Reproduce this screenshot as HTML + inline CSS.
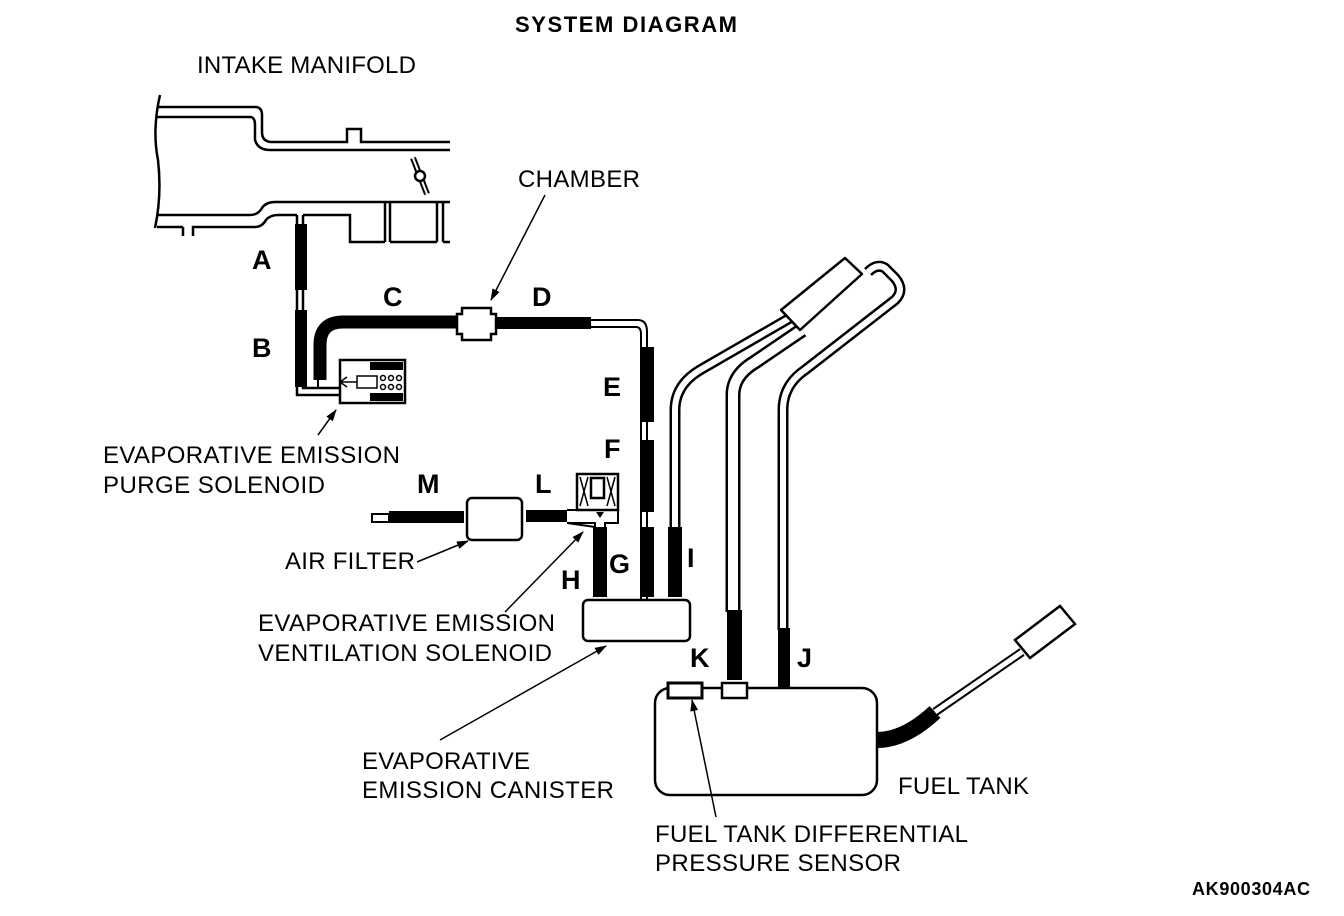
<!DOCTYPE html>
<html><head><meta charset="utf-8"><style>
html,body{margin:0;padding:0;background:#fff;}
svg{display:block;}
text{font-family:"Liberation Sans",sans-serif;fill:#000;}
.l{font-size:24px;}
.b{font-size:27px;font-weight:bold;}
</style></head><body>
<svg width="1344" height="916" viewBox="0 0 1344 916" xmlns="http://www.w3.org/2000/svg">
<defs><marker id="ar" markerWidth="12" markerHeight="8" refX="11" refY="4" orient="auto" markerUnits="userSpaceOnUse"><path d="M0,0 L12,4 L0,8 Z" fill="#000"/></marker></defs>
<text x="515" y="32" style="font-size:22px;font-weight:bold" textLength="222">SYSTEM DIAGRAM</text>
<text class="l" x="197" y="73" textLength="219">INTAKE MANIFOLD</text>
<g fill="none" stroke="#000" stroke-width="2.5">
<path d="M160,95 Q152,130 158,160 Q162,195 155,228"/>
<path d="M157,107 H255 Q262,107 262,115 V132 Q262,142 272,142 H347 V129 H361 V142 H450"/>
<path d="M157,117 H250 Q255,117 255,125 V140 Q258,150 270,150 H450"/>
<path d="M157,227 H183 M183,227 V236 M193,236 V227 H255 Q262,227 266,220 Q270,215 278,215 H297 M303,215 H350 V242 H385 M390,242 H437 M443,242 H450"/>
<path d="M157,215 H250 Q258,215 262,208 Q266,202 275,202 H450"/>
<path d="M385,202 V242 M390,202 V242 M437,202 V242 M443,202 V242"/>
<path d="M297,215 V395 H340 M303,215 V388 H340"/>
</g>
<line x1="413" y1="158" x2="427" y2="194" stroke="#000" stroke-width="6"/>
<line x1="413" y1="158" x2="427" y2="194" stroke="#fff" stroke-width="2"/>
<circle cx="420" cy="176" r="5" fill="#fff" stroke="#000" stroke-width="2.5"/>
<rect x="295" y="224" width="12" height="66" fill="#000"/>
<rect x="295" y="310" width="12" height="77" fill="#000"/>
<rect x="340" y="360" width="65" height="43" fill="#fff" stroke="#000" stroke-width="2.5"/>
<path d="M320,380 V345 Q320,322 343,322 H457" fill="none" stroke="#000" stroke-width="13"/>
<path d="M318,378 V388 H340" fill="none" stroke="#000" stroke-width="2"/>
<rect x="357" y="376" width="20" height="12" fill="none" stroke="#000" stroke-width="1.5"/>
<path d="M340,382 H357 M347,377 L340,382 L347,387" fill="none" stroke="#000" stroke-width="1.5"/>
<rect x="370" y="362" width="33" height="8" fill="#000"/><rect x="370" y="393" width="33" height="8" fill="#000"/>
<g fill="none" stroke="#000" stroke-width="1.5"><circle cx="383" cy="378" r="2.5"/><circle cx="391" cy="378" r="2.5"/><circle cx="399" cy="378" r="2.5"/><circle cx="383" cy="387" r="2.5"/><circle cx="391" cy="387" r="2.5"/><circle cx="399" cy="387" r="2.5"/></g>
<path d="M462,308 H491 V314 H496 V334 H491 V340 H462 V334 H457 V314 H462 Z" fill="#fff" stroke="#000" stroke-width="2.5"/>
<rect x="496" y="317" width="95" height="12" fill="#000"/>
<path d="M591,320 H638 Q647,320 647,332 V347 M591,327 H636 Q641,327 641,334 V347" fill="none" stroke="#000" stroke-width="2"/>
<path d="M641,347 V600 M647,347 V600" stroke="#000" stroke-width="2" fill="none"/>
<rect x="640" y="347" width="14" height="75" fill="#000"/>
<rect x="640" y="440" width="14" height="72" fill="#000"/>
<rect x="640" y="527" width="14" height="70" fill="#000"/>
<rect x="668" y="527" width="14" height="70" fill="#000"/>
<rect x="593" y="527" width="14" height="70" fill="#000"/>
<rect x="583" y="600" width="107" height="41" rx="5" fill="#fff" stroke="#000" stroke-width="2.5"/>
<g fill="none" stroke-linecap="butt" stroke-linejoin="round">
<path d="M675,527 V410 Q675,385 700,370 L790,318" stroke="#000" stroke-width="11"/>
<path d="M675,527 V410 Q675,385 700,370 L790,318" stroke="#fff" stroke-width="6"/>
<path d="M733,612 V395 Q733,375 755,362 L802,330" stroke="#000" stroke-width="15"/>
<path d="M733,612 V395 Q733,375 755,362 L802,330" stroke="#fff" stroke-width="10"/>
<path d="M783,630 V410 Q783,385 805,370 L895,300 Q905,290 895,278 L885,268 Q877,263 868,272" stroke="#000" stroke-width="11"/>
<path d="M783,630 V410 Q783,385 805,370 L895,300 Q905,290 895,278 L885,268 Q877,263 868,272" stroke="#fff" stroke-width="6"/>
<path d="M781,310 L845,258 L862,274 L800,330 Z" fill="#fff" stroke="#000" stroke-width="2.5"/>
</g>
<rect x="727" y="610" width="15" height="70" fill="#000"/>
<rect x="778" y="628" width="12" height="60" fill="#000"/>
<rect x="655" y="688" width="222" height="107" rx="15" fill="#fff" stroke="#000" stroke-width="2.5"/>
<rect x="668" y="683" width="34" height="15" fill="#fff" stroke="#000" stroke-width="3"/>
<rect x="722" y="683" width="25" height="15" fill="#fff" stroke="#000" stroke-width="2.5"/>
<path d="M877,740 Q905,740 935,712" fill="none" stroke="#000" stroke-width="16"/>
<path d="M935,712 L1022,652" stroke="#000" stroke-width="9"/>
<path d="M935,712 L1022,652" stroke="#fff" stroke-width="5"/>
<path d="M1015,640 L1060,606 L1075,624 L1030,658 Z" fill="#fff" stroke="#000" stroke-width="2.5"/>
<rect x="372" y="514" width="17" height="8" fill="#fff" stroke="#000" stroke-width="2"/>
<rect x="389" y="511" width="75" height="12" fill="#000"/>
<rect x="467" y="498" width="55" height="42" rx="5" fill="#fff" stroke="#000" stroke-width="2.5"/>
<rect x="526" y="510" width="41" height="12" fill="#000"/>
<path d="M567,510 H618 V523 H605 V527 M595,527 V523 H567 Z" fill="#fff" stroke="#000" stroke-width="2"/>
<rect x="577" y="474" width="41" height="36" fill="#fff" stroke="#000" stroke-width="2.5"/>
<rect x="591" y="478" width="13" height="20" fill="#fff" stroke="#000" stroke-width="2.5"/>
<path d="M580,477 L588,506 M588,477 L580,506 M607,477 L615,506 M615,477 L607,506" stroke="#000" stroke-width="1.5"/>
<path d="M596,512 L600,518 L604,512 Z" fill="#000"/>
<g stroke="#000" stroke-width="1.5" marker-end="url(#ar)">
<line x1="545" y1="195" x2="491" y2="300"/>
<line x1="318" y1="435" x2="336" y2="410"/>
<line x1="417" y1="562" x2="468" y2="541"/>
<line x1="505" y1="612" x2="583" y2="532"/>
<line x1="440" y1="740" x2="606" y2="646"/>
<line x1="716" y1="817" x2="692" y2="700"/>
</g>
<text class="b" x="252" y="269">A</text>
<text class="b" x="252" y="357">B</text>
<text class="b" x="383" y="306">C</text>
<text class="b" x="532" y="306">D</text>
<text class="b" x="603" y="396">E</text>
<text class="b" x="604" y="458">F</text>
<text class="b" x="609" y="573">G</text>
<text class="b" x="561" y="589">H</text>
<text class="b" x="687" y="567">I</text>
<text class="b" x="797" y="667">J</text>
<text class="b" x="690" y="667">K</text>
<text class="b" x="535" y="493">L</text>
<text class="b" x="417" y="493">M</text>
<text class="l" x="518" y="187" textLength="122">CHAMBER</text>
<text class="l" x="103" y="463" textLength="297">EVAPORATIVE EMISSION</text>
<text class="l" x="103" y="493" textLength="222">PURGE SOLENOID</text>
<text class="l" x="285" y="569" textLength="130">AIR FILTER</text>
<text class="l" x="258" y="631" textLength="297">EVAPORATIVE EMISSION</text>
<text class="l" x="258" y="661" textLength="294">VENTILATION SOLENOID</text>
<text class="l" x="362" y="769" textLength="168">EVAPORATIVE</text>
<text class="l" x="362" y="798" textLength="252">EMISSION CANISTER</text>
<text class="l" x="898" y="794" textLength="131">FUEL TANK</text>
<text class="l" x="655" y="842" textLength="313">FUEL TANK DIFFERENTIAL</text>
<text class="l" x="655" y="871" textLength="246">PRESSURE SENSOR</text>
<text x="1192" y="895" style="font-size:18px;font-weight:bold" textLength="118">AK900304AC</text>
</svg>
</body></html>
